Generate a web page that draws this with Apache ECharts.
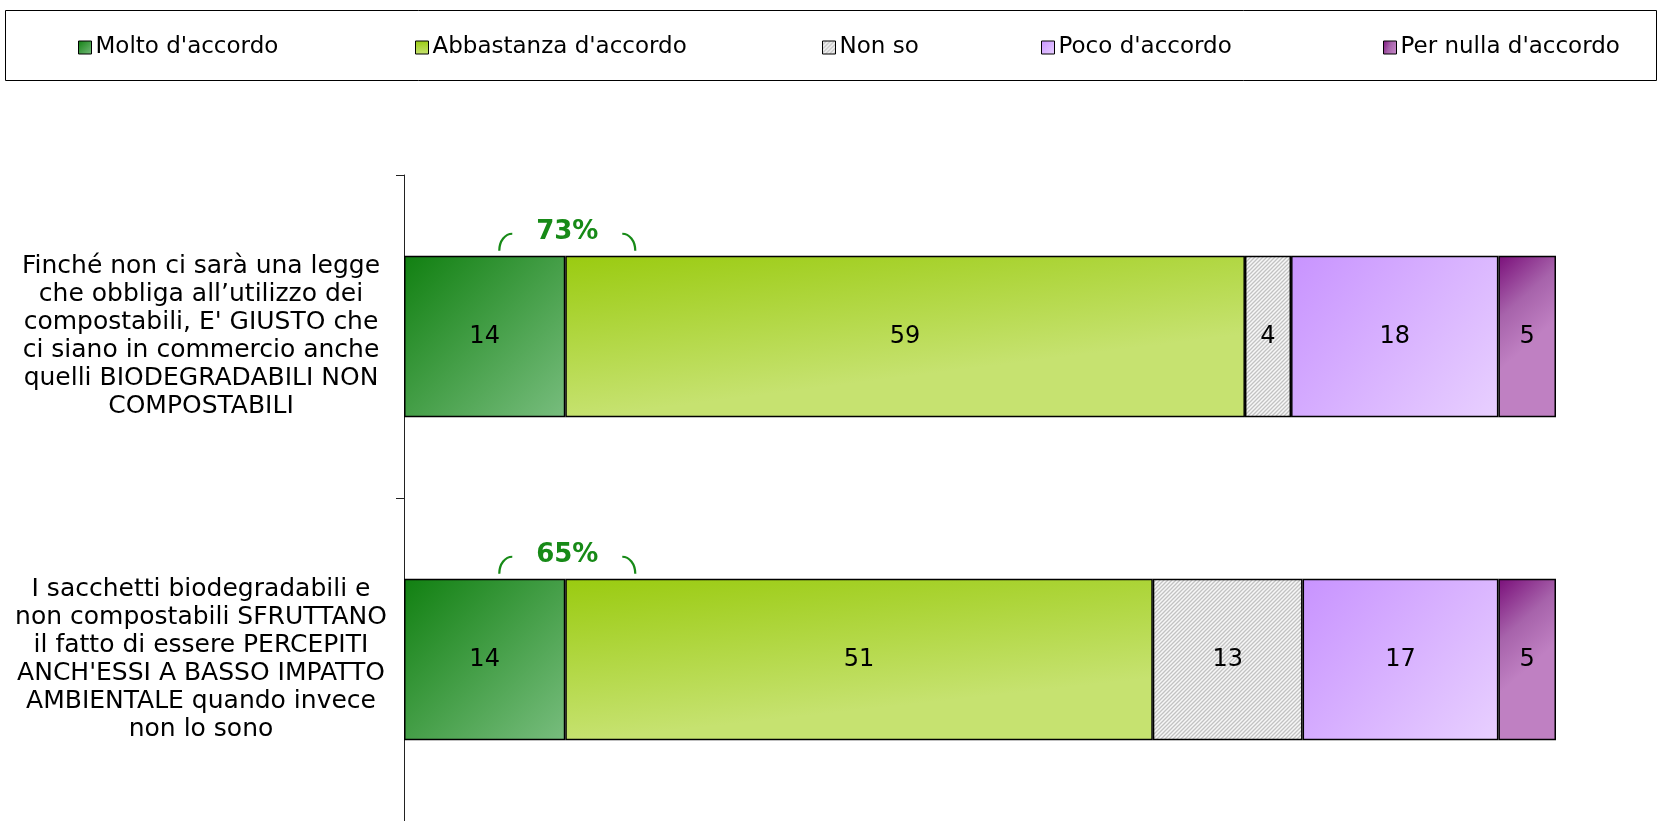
<!DOCTYPE html>
<html>
<head>
<meta charset="utf-8">
<style>
  html, body { margin: 0; padding: 0; background: #fff; }
  #chart { width: 1663px; height: 821px; }
</style>
<script src="https://cdn.jsdelivr.net/npm/echarts@6/dist/echarts.min.js"></script>
</head>
<body>
<div id="chart"></div>
<script>
  // domande (dall'alto in basso)
  var categories = [
    'Finché non ci sarà una legge\nche obbliga all\u2019utilizzo dei\ncompostabili, E\' GIUSTO che\nci siano in commercio anche\nquelli BIODEGRADABILI NON\nCOMPOSTABILI',
    'I sacchetti biodegradabili e\nnon compostabili SFRUTTANO\nil fatto di essere PERCEPITI\nANCH\'ESSI A BASSO IMPATTO\nAMBIENTALE quando invece\nnon lo sono'
  ]
  var molto = [14, 14]
  var abbastanza = [59, 51]
  var nonSo = [4, 13]
  var poco = [18, 17]
  var perNulla = [5, 5]
  var legendNames = ['Molto d\'accordo', 'Abbastanza d\'accordo', 'Non so', 'Poco d\'accordo', 'Per nulla d\'accordo']

  var FONT = 'DejaVu Sans, Verdana, sans-serif'
  var G = echarts.graphic

  // tratteggio per "Non so"
  function hatch () {
    var c = document.createElement('canvas')
    c.width = 4
    c.height = 4
    var ctx = c.getContext('2d')
    ctx.fillStyle = '#f7f7f7'
    ctx.fillRect(0, 0, 4, 4)
    ctx.strokeStyle = '#c2c2c2'
    ctx.lineWidth = 1.3
    ctx.beginPath()
    ctx.moveTo(-1, 5); ctx.lineTo(5, -1)
    ctx.moveTo(-1, 1); ctx.lineTo(1, -1)
    ctx.moveTo(3, 5); ctx.lineTo(5, 3)
    ctx.stroke()
    return { image: c, repeat: 'repeat' }
  }

  var colors = [
    new G.LinearGradient(0, 0, 1, 1, [{ offset: 0, color: '#118011' }, { offset: 1, color: '#78bd7e' }]),
    new G.LinearGradient(0, 0, 0.03, 1, [{ offset: 0, color: '#9acb10' }, { offset: 1, color: '#c6e270' }]),
    hatch(),
    new G.LinearGradient(0, 0, 1, 1, [{ offset: 0, color: '#c893ff' }, { offset: 1, color: '#e8d0ff' }]),
    new G.LinearGradient(0, 0, 1, 0.4, [{ offset: 0, color: '#7a0f7a' }, { offset: 0.55, color: '#a763ab' }, { offset: 1, color: '#bf80c2' }])
  ]
  var values = [molto, abbastanza, nonSo, poco, perNulla]
  var legendLeft = [73, 410, 817, 1036, 1378]

  var chart = echarts.init(document.getElementById('chart'))

  chart.setOption({
    animation: false,
    backgroundColor: '#fff',
    textStyle: { fontFamily: FONT },
    legend: legendNames.map(function (name, k) {
      return {
        left: legendLeft[k],
        top: 31,
        itemWidth: 13,
        itemHeight: 13,
        icon: 'rect',
        itemStyle: { borderColor: '#000', borderWidth: 1 },
        textStyle: { fontSize: 23, color: '#000', fontFamily: FONT, padding: [0, 0, 0, -1] },
        data: [name]
      }
    }),
    grid: { left: 404, right: 107, top: 175, bottom: 0 },
    xAxis: { type: 'value', min: 0, max: 100, show: false },
    yAxis: {
      type: 'category',
      inverse: true,
      data: categories,
      axisLine: { show: true, lineStyle: { color: '#222', width: 1 } },
      axisTick: { show: true, length: 8, lineStyle: { color: '#222' } },
      axisLabel: {
        align: 'center',
        margin: 203,
        fontSize: 25,
        lineHeight: 28,
        color: '#000',
        fontFamily: FONT
      }
    },
    series: legendNames.map(function (name, k) {
      return {
        name: name,
        type: 'bar',
        stack: 'tot',
        barCategoryGap: '50%',
        data: values[k],
        itemStyle: { color: colors[k], borderColor: '#000', borderWidth: 1.5 },
        label: { show: true, position: 'inside', fontSize: 24, color: '#000', fontFamily: FONT }
      }
    })
  })

  // riquadro della legenda + totali "accordo"
  var p0 = chart.convertToPixel({ xAxisIndex: 0, yAxisIndex: 0 }, [0, 0])
  var p1 = chart.convertToPixel({ xAxisIndex: 0, yAxisIndex: 0 }, [0, 1])
  var half = (p1[1] - p0[1]) / 4
  var green = '#178a17'
  var extra = [{
    type: 'rect',
    shape: { x: 5.5, y: 10.5, width: 1651, height: 70 },
    style: { fill: null, stroke: '#000', lineWidth: 1 },
    z: -1
  }]
  categories.forEach(function (c, i) {
    var p = chart.convertToPixel({ xAxisIndex: 0, yAxisIndex: 0 }, [molto[i], i])
    var cx = p[0] + 2
    var top = p[1] - half
    extra.push({
      type: 'text',
      x: cx, y: top - 24,
      style: { text: (molto[i] + abbastanza[i]) + '%', fill: green, fontSize: 26, fontWeight: 'bold', fontFamily: FONT, align: 'center', verticalAlign: 'middle' }
    })
    extra.push({
      type: 'bezierCurve',
      shape: { x1: cx - 68, y1: top - 5, cpx1: cx - 68, cpy1: top - 15, cpx2: cx - 62, cpy2: top - 22, x2: cx - 55, y2: top - 22 },
      style: { stroke: green, lineWidth: 2.2, fill: null }
    })
    extra.push({
      type: 'bezierCurve',
      shape: { x1: cx + 55, y1: top - 22, cpx1: cx + 62, cpy1: top - 22, cpx2: cx + 68, cpy2: top - 15, x2: cx + 68, y2: top - 5 },
      style: { stroke: green, lineWidth: 2.2, fill: null }
    })
  })
  chart.setOption({ graphic: extra })
</script>
</body>
</html>
